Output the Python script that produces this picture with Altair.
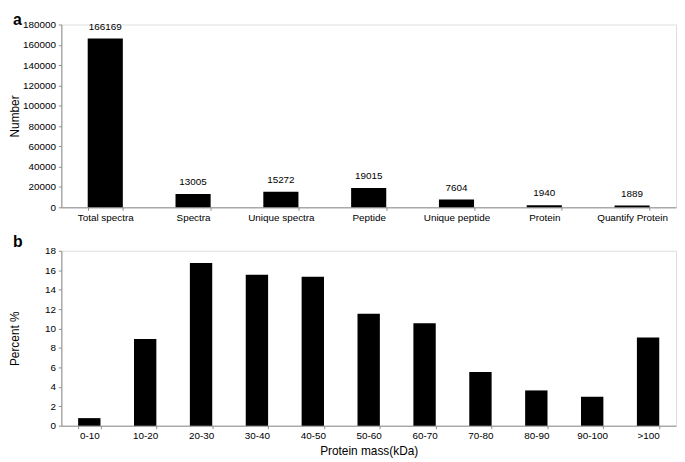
import altair as alt
import pandas as pd

# Panel a
cat_a = ["Total spectra", "Spectra", "Unique spectra", "Peptide", "Unique peptide", "Protein", "Quantify Protein"]
val_a = [166169, 13005, 15272, 19015, 7604, 1940, 1889]

# Panel b
cat_b = ["0-10", "10-20", "20-30", "30-40", "40-50", "50-60", "60-70", "70-80", "80-90", "90-100", ">100"]
val_b = [0.78, 8.92, 16.75, 15.53, 15.33, 11.53, 10.55, 5.52, 3.63, 2.98, 9.08]

df_a = pd.DataFrame({"cat": cat_a, "val": val_a})
df_b = pd.DataFrame({"cat": cat_b, "val": val_b})

FONT = "Liberation Sans"
GRAY = "#8c8c8c"

xaxis_common = dict(
    labelAngle=0, labelFontSize=10, labelFont=FONT, labelColor="#000",
    domainColor=GRAY, tickColor=GRAY, tickSize=3, tickBand="extent",
    labelPadding=2, grid=False,
)
yaxis_common = dict(
    labelFontSize=10, labelFont=FONT, labelColor="#000",
    domainColor=GRAY, tickColor=GRAY, tickSize=3, grid=False,
    titleFontSize=12, titleFont=FONT, titleFontWeight="normal", titleColor="#000",
    labelPadding=3, minExtent=39, maxExtent=39, titlePadding=1, format="d",
)

base_a = alt.Chart(df_a).encode(
    x=alt.X("cat:N", sort=cat_a, title=None,
            scale=alt.Scale(paddingInner=0.6, paddingOuter=0.3),
            axis=alt.Axis(**xaxis_common)),
    y=alt.Y("val:Q", title="Number",
            scale=alt.Scale(domain=[0, 180000], nice=False),
            axis=alt.Axis(values=list(range(0, 180001, 20000)), **yaxis_common)),
)
bars_a = base_a.mark_bar(color="#000")
text_a = base_a.mark_text(dy=-12, fontSize=10, font=FONT, color="#000").encode(text="val:Q")
chart_a = (bars_a + text_a).properties(
    width=622, height=185,
    title=alt.TitleParams("a", anchor="start", frame="group", dx=-49, fontSize=16,
                          font=FONT, fontWeight="bold", offset=-8),
)

base_b = alt.Chart(df_b).encode(
    x=alt.X("cat:N", sort=cat_b, title="Protein mass(kDa)",
            scale=alt.Scale(paddingInner=0.6, paddingOuter=0.3),
            axis=alt.Axis(titleFontSize=12, titleFont=FONT, titleFontWeight="normal",
                          titleColor="#000", titlePadding=5, **xaxis_common)),
    y=alt.Y("val:Q", title="Percent %",
            scale=alt.Scale(domain=[0, 18], nice=False),
            axis=alt.Axis(values=list(range(0, 19, 2)), **yaxis_common)),
)
chart_b = base_b.mark_bar(color="#000").properties(
    width=622, height=177,
    title=alt.TitleParams("b", anchor="start", frame="group", dx=-49, fontSize=16,
                          font=FONT, fontWeight="bold", offset=-4),
)

chart = alt.vconcat(chart_a, chart_b, spacing=10).properties(
    padding={"left": 0, "top": 0, "right": 0, "bottom": 0}
).configure_view(stroke=None).configure(background="white")

chart.save("out.html", embed_options={"renderer": "svg", "actions": False})
